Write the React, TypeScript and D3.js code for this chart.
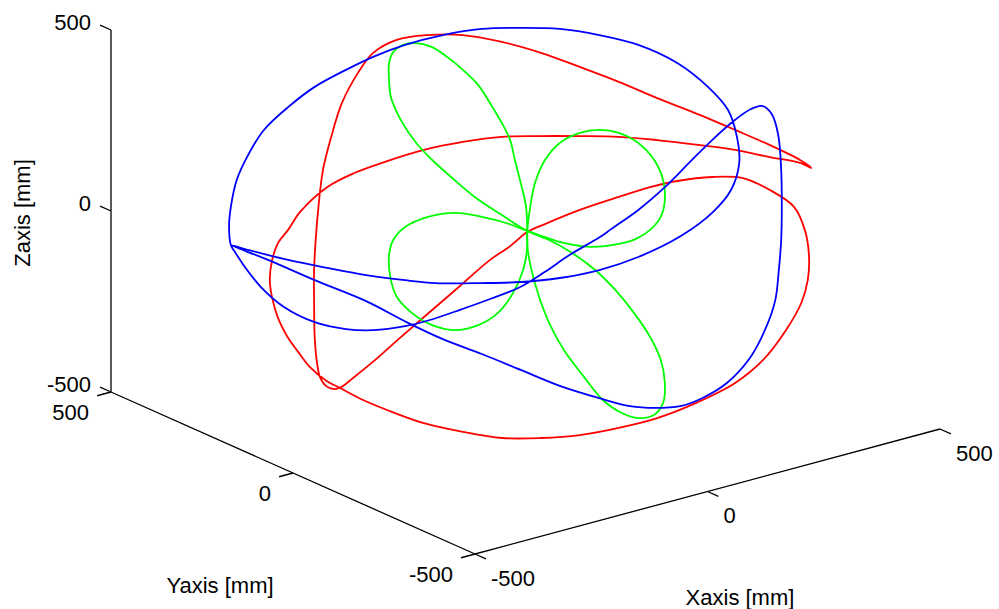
import React, { useEffect, useRef } from "react";
import * as d3 from "d3";

// tick values on the three axes
const xTicks = [-500, 0, 500];
const yTicks = [-500, 0, 500];
const zTicks = [-500, 0, 500];
const xTitle = "Xaxis [mm]";
const yTitle = "Yaxis [mm]";
const zTitle = "Zaxis [mm]";

// trajectories, laid on the vertical plane facing the viewer:
// h = mm along that plane (left -> right), z = height in mm
const redH = [484, 465, 414, 355, 296, 223, 158, 92, 26, -40, -106, -165, -218, -258, -284, -311, -329, -343, -350, -355,
  -358, -358, -357, -353, -348, -338, -324, -312, -292, -255, -213, -162, -111, -60, -26, 3, 33, 92, 158, 211,
  257, 316, 368, 414, 455, 473, 480, 478, 467, 441, 402, 355, 289, 223, 158, 92, 26, -40, -106, -172,
  -221, -275, -314, -336, -365, -385, -404, -419, -429, -433, -429, -419, -402, -382, -336, -290, -238, -172, -106, -40,
  26, 92, 158, 223, 296, 355, 414, 465];
const redZ = [170, 192, 233, 275, 316, 363, 408, 449, 488, 518, 537, 537, 524, 488, 432, 349, 256, 164, 73, -21,
  -112, -203, -297, -369, -408, -432, -441, -435, -410, -361, -300, -228, -156, -84, -46, -7, 15, 54, 90, 117,
  134, 145, 142, 109, 62, -1, -70, -140, -203, -278, -361, -424, -479, -521, -548, -568, -576, -576, -559, -535,
  -507, -471, -438, -419, -380, -338, -294, -245, -189, -140, -84, -37, -1, 48, 117, 156, 187, 220, 242, 256,
  258, 258, 256, 247, 233, 220, 200, 184];

const blueH = [-499, -502, -499, -489, -468, -443, -402, -357, -304, -258, -204, -140, -74, -8, 58, 125, 191, 257, 309, 343,
  358, 362, 348, 316, 263, 191, 125, 58, -8, -74, -152, -204, -270, -336, -402, -468, -499, -436, -357, -270,
  -199, -140, -74, -8, 58, 125, 177, 219, 262, 299, 341, 380, 407, 423, 429, 433, 434, 433, 428, 417,
  402, 382, 355, 316, 277, 236, 191, 145, 126, 75, 33, -9, -60, -111, -162, -204, -258, -304, -357, -409,
  -448, -475, -492];
const blueZ = [-43, 12, 62, 137, 211, 275, 338, 394, 441, 477, 510, 537, 554, 557, 554, 537, 510, 460, 394, 330,
  256, 184, 109, 46, -18, -76, -112, -134, -145, -148, -148, -140, -126, -106, -84, -57, -43, -84, -140, -198,
  -258, -303, -344, -388, -432, -466, -488, -493, -488, -466, -424, -355, -272, -195, -112, -29, 62, 164, 261, 319,
  341, 333, 303, 247, 184, 117, 54, 1, -21, -70, -117, -159, -192, -222, -250, -267, -278, -275, -256, -214,
  -159, -104, -62];

// green rose: petals up-left / down-right, then up-right / down-left
const greenAH = [3, 1, -8, -18, -26, -40, -60, -80, -106, -133, -158, -185, -207, -224, -231, -231, -228, -211, -185, -158,
  -126, -86, -40, 3, 40, 79, 118, 152, 184, 211, 229, 236, 233, 218, 191, 163, 131, 99, 65, 40, 23, 9, 3];
const greenAZ = [-4, 62, 128, 192, 247, 294, 349, 399, 441, 477, 504, 515, 510, 490, 460, 413, 366, 302, 239, 192,
  145, 90, 40, -4, -29, -65, -112, -167, -231, -297, -360, -424, -479, -512, -521, -507, -471, -407, -333, -258, -186, -104, -43];
const greenBH = [3, 8, 16, 33, 58, 92, 124, 158, 191, 218, 233, 236, 229, 211, 187, 158, 111, 65, 33, 3,
  -33, -74, -119, -165, -204, -224, -231, -229, -218, -192, -158, -119, -80, -47, -21, -4, 3];
const greenBZ = [-4, 62, 128, 192, 239, 267, 275, 267, 239, 192, 137, 81, 35, -1, -26, -40, -48, -37, -21, -4,
  18, 35, 46, 35, 7, -29, -70, -131, -186, -231, -264, -278, -264, -231, -175, -112, -48];

const width = 999;
const height = 609;

// screen box of the 3-D axes (MATLAB default view)
const corner = [475, 554]; // (x,y,z) = (-500,-500,-500)
const spanX = [465, -125];
const spanY = [-364, -162];
const spanZ = [0, -362];
const tickLen = 30;

const App = () => {
  const ref = useRef(null);

  useEffect(() => {
    const svg = d3.select(ref.current);
    svg.selectAll("*").remove();

    const fx = d3.scaleLinear().domain([-500, 500]).range([0, 1]);
    const fy = d3.scaleLinear().domain([-500, 500]).range([0, 1]);
    const fz = d3.scaleLinear().domain([-500, 500]).range([0, 1]);

    const project = (x, y, z) => [
      corner[0] + fx(x) * spanX[0] + fy(y) * spanY[0] + fz(z) * spanZ[0],
      corner[1] + fx(x) * spanX[1] + fy(y) * spanY[1] + fz(z) * spanZ[1],
    ];

    // horizontal direction (on screen) within the x-y plane
    const k = -spanX[1] / spanY[1];
    const n = Math.hypot(1, k);
    const dirX = 1 / n;
    const dirY = k / n;
    const onPlane = (h, z) => project(h * dirX, h * dirY, z);

    const font = "'Liberation Sans', Arial, sans-serif";

    svg.append("rect").attr("width", width).attr("height", height).attr("fill", "#fff");

    const axes = svg.append("g").attr("stroke", "#000").attr("stroke-width", 1.3).attr("fill", "none");
    const seg = (a, b) =>
      axes.append("line").attr("x1", a[0]).attr("y1", a[1]).attr("x2", b[0]).attr("y2", b[1]);

    seg(project(-500, 500, -500), project(-500, 500, 500));
    seg(project(-500, 500, -500), project(-500, -500, -500));
    seg(project(-500, -500, -500), project(500, -500, -500));

    xTicks.forEach((t) => seg(project(t, -500, -500), project(t, -500 - tickLen, -500)));
    yTicks.forEach((t) => seg(project(-500, t, -500), project(-500 - tickLen, t, -500)));
    zTicks.forEach((t) => seg(project(-500, 500, t), project(-500, 500 + tickLen, t)));

    const labels = svg.append("g").attr("font-family", font).attr("font-size", 22).attr("fill", "#000");

    xTicks.forEach((t) => {
      const p = project(t, -500, -500);
      labels.append("text").attr("x", p[0] + 16).attr("y", p[1] + 24)
        .attr("dominant-baseline", "central").attr("text-anchor", "start").text(t);
    });
    yTicks.forEach((t) => {
      const p = project(-500, t, -500);
      labels.append("text").attr("x", p[0] - 22).attr("y", p[1] + 20)
        .attr("dominant-baseline", "central").attr("text-anchor", "end").text(t);
    });
    zTicks.forEach((t) => {
      const p = project(-500, 500, t);
      labels.append("text").attr("x", p[0] - 20).attr("y", p[1] - 8)
        .attr("dominant-baseline", "central").attr("text-anchor", "end").text(t);
    });

    labels.append("text").attr("x", 740).attr("y", 597)
      .attr("dominant-baseline", "central").attr("text-anchor", "middle").text(xTitle);
    labels.append("text").attr("x", 220).attr("y", 585)
      .attr("dominant-baseline", "central").attr("text-anchor", "middle").text(yTitle);
    labels.append("text").attr("transform", "translate(22,213) rotate(-90)")
      .attr("dominant-baseline", "central").attr("text-anchor", "middle").text(zTitle);

    const line = d3.line().curve(d3.curveCatmullRomClosed.alpha(0.5));
    const curves = [
      { h: redH, z: redZ, color: "#ff0000" },
      { h: greenAH, z: greenAZ, color: "#00ff00" },
      { h: greenBH, z: greenBZ, color: "#00ff00" },
      { h: blueH, z: blueZ, color: "#0000ff" },
    ];

    svg.append("g").selectAll("path")
      .data(curves)
      .join("path")
      .attr("d", (c) => line(c.h.map((h, i) => onPlane(h, c.z[i]))))
      .attr("fill", "none")
      .attr("stroke", (c) => c.color)
      .attr("stroke-width", 1.8)
      .attr("stroke-linejoin", "round");
  }, []);

  return (
    <svg
      ref={ref}
      width={width}
      height={height}
      style={{ position: "absolute", left: 0, top: 0, display: "block" }}
    />
  );
};

export default App;
